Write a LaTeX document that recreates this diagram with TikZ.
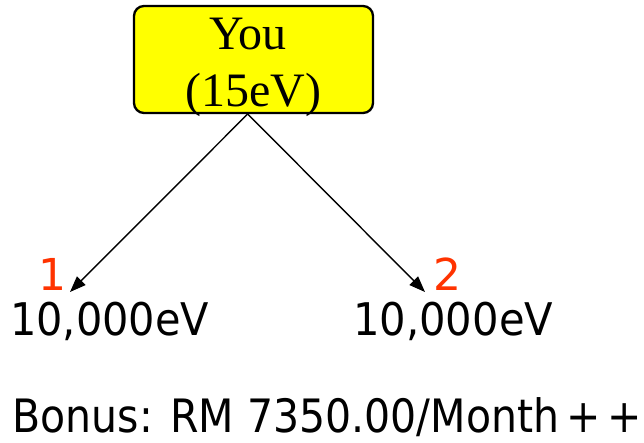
\documentclass[tikz,border=0pt]{standalone}
\usepackage{fontspec}
\usepackage{graphicx}
\setmainfont{Liberation Serif}
\setsansfont{DejaVu Sans}
\usetikzlibrary{arrows.meta}
\definecolor{boxyellow}{RGB}{255,255,0}
\definecolor{numred}{RGB}{255,51,0}
\tikzset{
  youbox/.style={draw=black, line width=2.3pt, fill=boxyellow, rounded corners=10pt},
  serifbig/.style={font=\fontsize{48}{56}\selectfont, inner sep=0pt, anchor=base},
  numlabel/.style={font=\sffamily\fontsize{44}{52}\selectfont, text=numred, inner sep=0pt, anchor=base west},
  evlabel/.style={inner sep=0pt, anchor=base west},
  link/.style={line width=1.4pt, -{Triangle[length=16pt,width=12pt]}}
}
\begin{document}
\begin{tikzpicture}[x=1pt,y=-1pt]
\useasboundingbox (0,0) rectangle (644,443);
\draw[youbox] (134,6) rectangle (373,113);
\node[serifbig] (you) at (248,50) {You};
\node[serifbig] (ev15) at (253.5,107) {(15eV)};
\coordinate (apex) at (247.7,114);
\coordinate (tip1) at (70,292);
\coordinate (tip2) at (425,292);
\node[numlabel] (n1) at (38,290) {1};
\node[numlabel] (n2) at (433.5,290) {2};
\node[evlabel] (e1) at (10,335) {\resizebox{199pt}{\height}{\sffamily\fontsize{45}{54}\selectfont 10,000eV}};
\node[evlabel] (e2) at (353,335) {\resizebox{200pt}{\height}{\sffamily\fontsize{45}{54}\selectfont 10,000eV}};
\node[evlabel] (bonus) at (12.5,432) {\resizebox{629pt}{\height}{\sffamily\fontsize{46}{56}\selectfont Bonus: RM 7350.00/Month\,+\,+}};
\draw[link] (apex) -- (tip1);
\draw[link] (apex) -- (tip2);
\end{tikzpicture}
\end{document}
